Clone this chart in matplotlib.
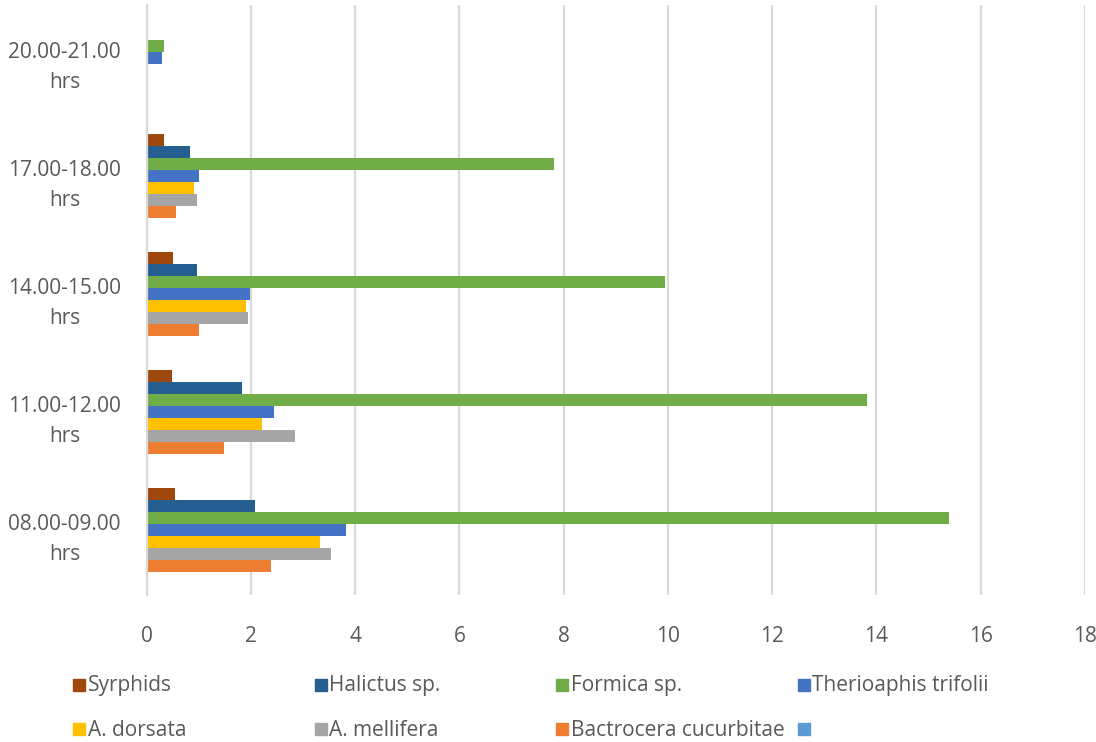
import matplotlib
matplotlib.use("Agg")
import matplotlib.pyplot as plt
from matplotlib.patches import Rectangle
from matplotlib.transforms import ScaledTranslation
import numpy as np

plt.rcParams['font.family'] = ['Open Sans', 'DejaVu Sans']

categories = ["08.00-09.00\nhrs", "11.00-12.00\nhrs", "14.00-15.00\nhrs",
              "17.00-18.00\nhrs", "20.00-21.00\nhrs"]

# series in legend order
syrphids = [0.55, 0.49, 0.51, 0.34, 0.0]
halictus = [2.09, 1.84, 0.97, 0.84, 0.0]
formica = [15.40, 13.81, 9.95, 7.81, 0.33]
therioaphis = [3.82, 2.45, 1.99, 1.00, 0.29]
a_dorsata = [3.32, 2.22, 1.90, 0.92, 0.0]
a_mellifera = [3.53, 2.85, 1.94, 0.97, 0.0]
bactrocera = [2.39, 1.49, 1.01, 0.57, 0.0]
unnamed = [0.0, 0.0, 0.0, 0.0, 0.0]

series_names = ["Syrphids", "Halictus sp.", "Formica sp.", "Therioaphis trifolii",
                "A. dorsata", "A. mellifera", "Bactrocera cucurbitae", ""]
series_values = [syrphids, halictus, formica, therioaphis,
                 a_dorsata, a_mellifera, bactrocera, unnamed]
colors = ["#9E480E", "#255E91", "#70AD47", "#4472C4",
          "#FFC000", "#A5A5A5", "#ED7D31", "#5B9BD5"]

W, H = 1096, 742
FS = 15
fig = plt.figure(figsize=(W / 100, H / 100), dpi=100)
ax = fig.add_axes([146.5 / W, 1 - 595 / H, (1085 - 146.5) / W, (595 - 5) / H])

n = len(series_names)
bh = 0.1015
y = np.arange(len(categories))
for i, (name, vals, c) in enumerate(zip(series_names, series_values, colors)):
    # first series (Syrphids) at top of each group, last at bottom
    offset = ((n - 1) / 2 - i) * bh
    ax.barh(y + offset, vals, height=bh, color=c, edgecolor='none', zorder=3)

ax.set_xlim(0, 18)
ax.set_ylim(-0.5, len(categories) - 0.5)
ax.set_xticks(np.arange(0, 19, 2))
ax.set_yticks(y)
ax.set_yticklabels(categories, ha='center', linespacing=1.5)
ax.tick_params(axis='y', length=0, pad=59, labelsize=FS, labelcolor='#595959')
ax.tick_params(axis='x', length=0, pad=22, labelsize=FS, labelcolor='#595959')
shift = ScaledTranslation(0, 3 / 100, fig.dpi_scale_trans)
for lab in ax.get_yticklabels():
    lab.set_transform(lab.get_transform() + shift)
ax.grid(axis='x', color='#D9D9D9', linewidth=1.6, zorder=0)
for s in ['top', 'right', 'bottom']:
    ax.spines[s].set_visible(False)
ax.spines['left'].set_color('#D9D9D9')
ax.spines['left'].set_linewidth(1.6)
ax.spines['left'].set_zorder(4)

# legend (manual, Excel style)
for i, (name, c) in enumerate(zip(series_names, colors)):
    col, row = i % 4, i // 4
    px = 73 + 241.5 * col
    py = 685 + 44 * row
    fig.patches.append(Rectangle((px / W, 1 - (py + 6) / H), 12 / W, 12 / H,
                                 transform=fig.transFigure, color=c, figure=fig))
    fig.text((px + 15) / W, 1 - (py + 1) / H, name, ha='left', va='center',
             fontsize=FS, color='#595959')

fig.savefig("out.png", dpi=100)
